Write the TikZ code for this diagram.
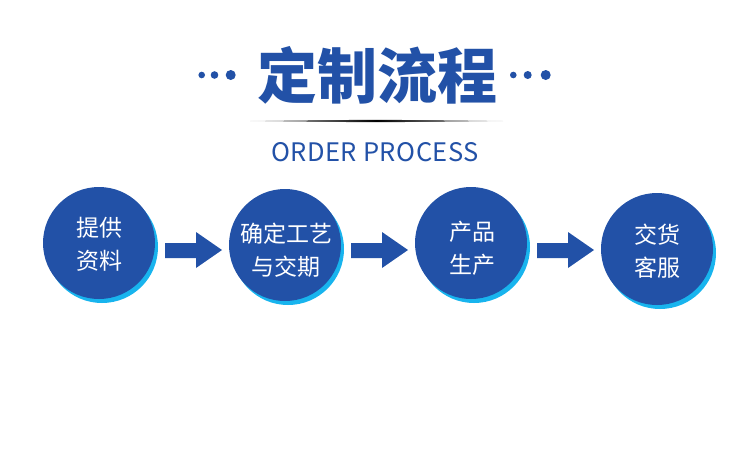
\documentclass[tikz,border=0pt]{standalone}
\usepackage{fontspec}
\newfontfamily\cjk{Noto Sans CJK SC}
\newfontfamily\cjkspaced{Noto Sans CJK SC}[LetterSpace=2]
\definecolor{mainblue}{HTML}{2251A7}
\definecolor{rimcyan}{HTML}{18B4EE}
\tikzset{
  stepcircle/.style={circle, fill=mainblue, minimum size=112pt, inner sep=0pt},
  stepshadow/.style={circle, fill=rimcyan, minimum size=112pt, inner sep=0pt},
  steptext/.style={text=white, font=\cjk\fontsize{23}{33}\selectfont, align=center},
  flowarrow/.style={fill=mainblue},
  titledot/.style={circle, fill=mainblue, inner sep=0pt}
}
\begin{document}
\begin{tikzpicture}[x=1pt,y=-1pt]
\useasboundingbox (0,0) rectangle (750,456);
\fill[white] (0,0) rectangle (750,456);
% title
\node[text=mainblue, font=\cjk\bfseries\fontsize{60}{60}\selectfont, inner sep=0pt] (title) at (377.5,75.5) {定制流程};
\node[titledot, minimum size=6.6pt] (dl1) at (201.7,75) {};
\node[titledot, minimum size=7.6pt] (dl2) at (214.5,75) {};
\node[titledot, minimum size=10pt] (dl3) at (230.7,75) {};
\node[titledot, minimum size=6.6pt] (dr1) at (513.3,75) {};
\node[titledot, minimum size=8pt] (dr2) at (527.7,75) {};
\node[titledot, minimum size=10pt] (dr3) at (545.7,75) {};
% divider line
\shade[left color=gray!40, right color=gray!40, middle color=black]
  (250,121) .. controls (330,119.6) and (420,119.6) .. (503,121)
  .. controls (420,122.4) and (330,122.4) .. (250,121) -- cycle;
\node[text=mainblue, font=\cjkspaced\fontsize{25.5}{25.5}\selectfont, inner sep=0pt] (sub) at (375,151.7) {ORDER PROCESS};
% circles
\node[stepshadow] (s1) at (102,247) {};
\node[stepcircle] (c1) at (99,243) {};
\node[stepshadow] (s2) at (288,249) {};
\node[stepcircle] (c2) at (285,245) {};
\node[stepshadow] (s3) at (474,247) {};
\node[stepcircle] (c3) at (471,243) {};
\node[stepshadow] (s4) at (660,253) {};
\node[stepcircle] (c4) at (657,249) {};
\node[steptext] (t1) at (99,244) {提供\\资料};
\node[steptext] (t2) at (286,250) {确定工艺\\与交期};
\node[steptext] (t3) at (472,248) {产品\\生产};
\node[steptext] (t4) at (657.5,251.5) {交货\\客服};
% arrows
\foreach \i/\x in {1/165,2/351,3/537}{
  \fill[flowarrow] (\x,243) -- (\x+31,243) -- (\x+31,232) -- (\x+57,250) -- (\x+31,268) -- (\x+31,258) -- (\x,258) -- cycle;
}
\end{tikzpicture}
\end{document}
